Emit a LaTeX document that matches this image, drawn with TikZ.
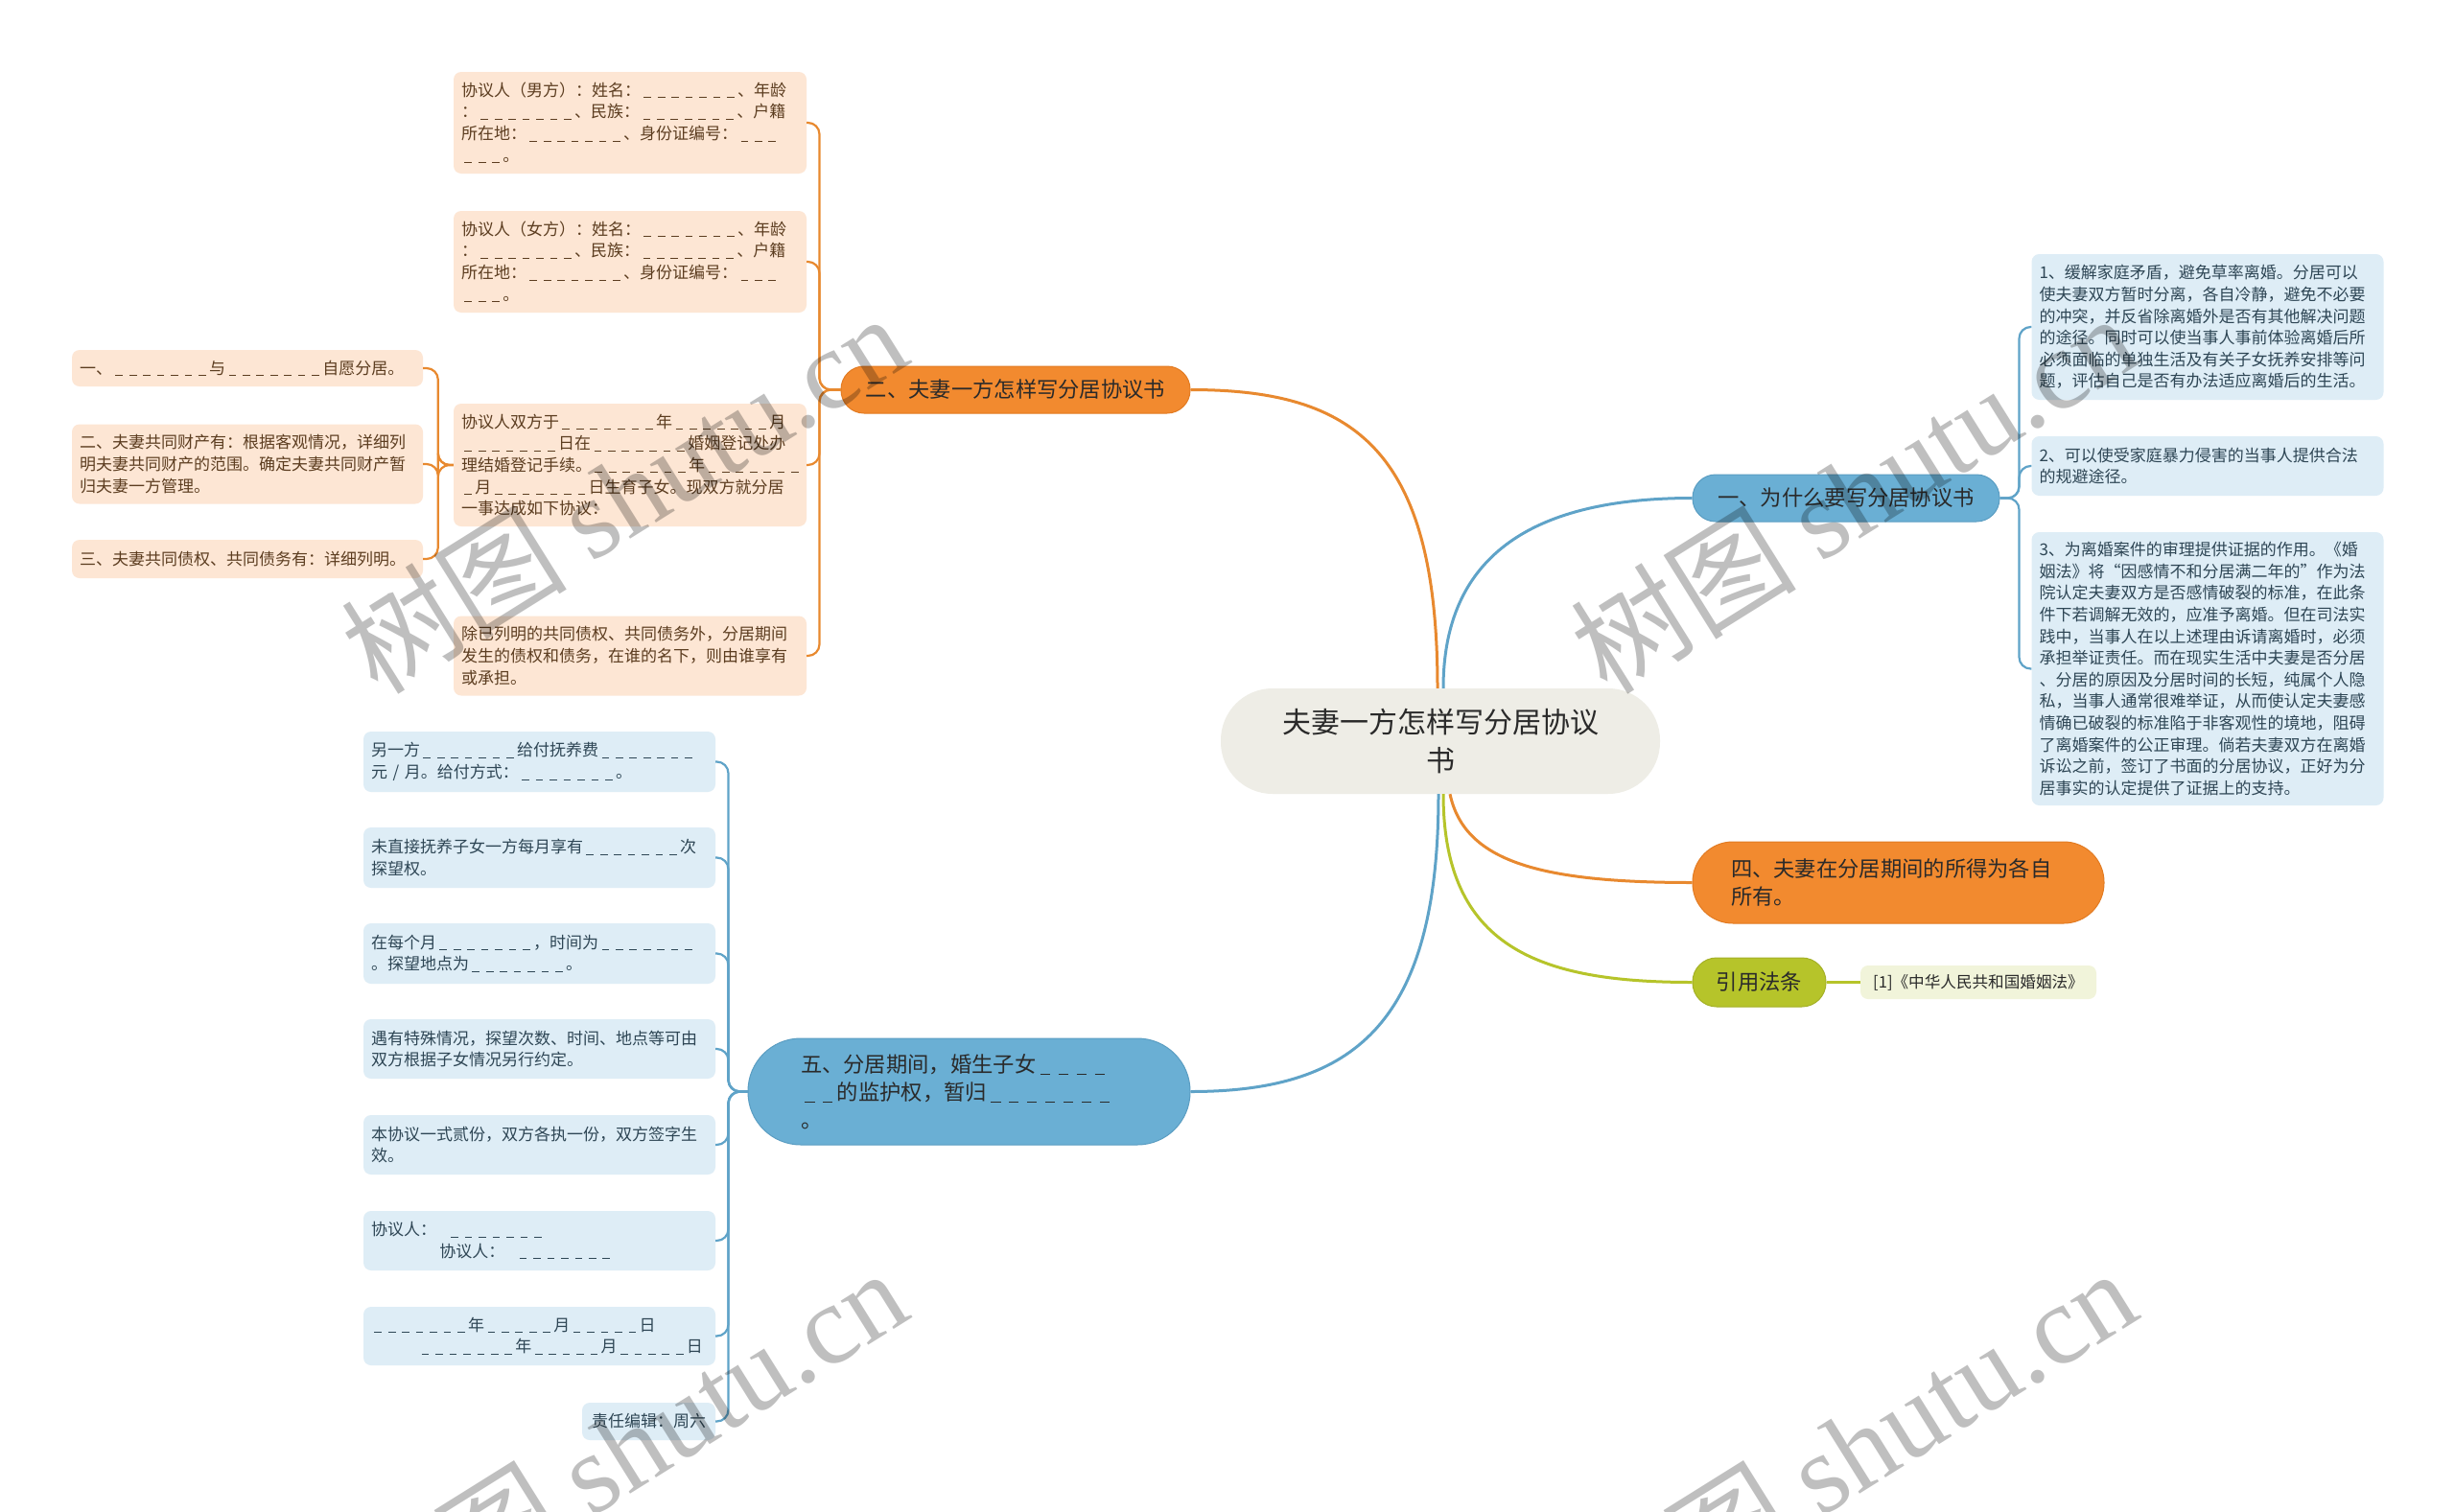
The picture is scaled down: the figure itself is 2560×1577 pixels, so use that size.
\documentclass[tikz,border=0pt]{standalone}
\usepackage{fontspec}
\setmainfont{Noto Sans CJK SC}
\newfontfamily\wmserif{Liberation Serif}
\usetikzlibrary{calc}
\definecolor{peach}{HTML}{FDE6D4}
\definecolor{obrown}{HTML}{5C3D20}
\definecolor{opillc}{HTML}{F28A2F}
\definecolor{opillb}{HTML}{E27B22}
\definecolor{olinec}{HTML}{E8892F}
\definecolor{bleafc}{HTML}{DEEDF6}
\definecolor{bslate}{HTML}{2E4655}
\definecolor{bpillc}{HTML}{6AAFD4}
\definecolor{bpillb}{HTML}{5A9DC2}
\definecolor{blinec}{HTML}{5FA3C8}
\definecolor{gpillc}{HTML}{B6C42A}
\definecolor{gleafc}{HTML}{F1F4DA}
\definecolor{centerc}{HTML}{EEEDE6}
\definecolor{darkt}{HTML}{2A2A2A}
\newcommand\dsh{\hspace{0.2em}\rule[-0.12em]{0.45em}{0.06em}\hspace{0.2em}}
\newcommand\US[1]{\ifnum#1>0 \dsh\expandafter\US\expandafter{\the\numexpr#1-1\relax}\fi}
\newcommand\leaffont{\fontsize{17}{22.6}\selectfont}
\newcommand\pillfont{\fontsize{22.3}{29}\selectfont}
\begin{document}
\begin{tikzpicture}[x=1pt,y=-1pt,
  oleaf/.style={fill=peach, text=obrown, rounded corners=8pt, inner xsep=8pt, inner ysep=0pt, align=left, text width=352pt, minimum width=368pt, font=\leaffont},
  bleaf/.style={fill=bleafc, text=bslate, rounded corners=8pt, inner xsep=8pt, inner ysep=0pt, align=left, text width=351pt, minimum width=367pt, font=\leaffont},
  opill/.style={fill=opillc, draw=opillb, line width=1pt, text=darkt, font=\pillfont, align=center, inner sep=0pt},
  bpill/.style={fill=bpillc, draw=bpillb, line width=1pt, text=darkt, font=\pillfont, align=center, inner sep=0pt},
  olink/.style={draw=olinec, line width=2.2pt, rounded corners=12pt},
  blink/.style={draw=blinec, line width=2.2pt, rounded corners=12pt},
  mainlink/.style={line width=3pt},
  wm/.style={text=black, text opacity=0.25, font=\fontsize{118}{130}\selectfont, rotate=32, inner sep=0pt}
]
\useasboundingbox (0,0) rectangle (2560,1577);
\fill[white] (0,0) rectangle (2560,1577);

% center
\node[fill=centerc, rounded corners=54pt, minimum width=458pt, minimum height=110pt, text=darkt, align=center, inner sep=0pt, font=\fontsize{30}{40}\selectfont] (c) at (1502,773) {夫妻一方怎样写分居协议\\书};

% branches
\node[opill, rounded corners=24pt, minimum width=364pt, minimum height=49pt] (b2) at (1059,406.5) {二、夫妻一方怎样写分居协议书};
\node[bpill, rounded corners=24pt, minimum width=320pt, minimum height=49pt] (b1) at (1925,519.5) {一、为什么要写分居协议书};
\node[opill, rounded corners=42pt, minimum width=429pt, minimum height=85pt, align=left, text width=349pt, inner xsep=40pt, inner ysep=0pt] (b4) at (1979.5,920.5) {四、夫妻在分居期间的所得为各自\\所有。};
\node[fill=gpillc, draw=gpillc!90!black, line width=1pt, rounded corners=25pt, minimum width=139pt, minimum height=51pt, text=darkt, font=\pillfont, inner sep=0pt] (bref) at (1834.5,1024.5) {引用法条};
\node[fill=gleafc, rounded corners=8pt, minimum width=246pt, minimum height=35pt, text=darkt, inner sep=0pt, font=\fontsize{16.6}{20}\selectfont] (ref1) at (2063,1024.5) {[1]《中华人民共和国婚姻法》};
\node[bpill, rounded corners=55pt, minimum width=461pt, minimum height=111pt, align=left, text width=351pt, inner xsep=55pt, inner ysep=0pt] (b5) at (1010.5,1138.5) {五、分居期间，婚生子女\US4\\\US2的监护权，暂归\US7\\。};

% orange leaves
\node[oleaf, minimum height=106pt] (L1) at (657,128) {协议人（男方）：姓名：\US7、年龄\\：\US7、民族：\US7、户籍\\所在地：\US7、身份证编号：\US3\\\US3。};
\node[oleaf, minimum height=106pt] (L2) at (657,273) {协议人（女方）：姓名：\US7、年龄\\：\US7、民族：\US7、户籍\\所在地：\US7、身份证编号：\US3\\\US3。};
\node[oleaf, minimum height=128pt] (L3) at (657,485) {协议人双方于\US7年\US7月\\\US7日在\US7婚姻登记处办\\理结婚登记手续。\US7年\US7\\\US1月\US7日生育子女。现双方就分居\\一事达成如下协议：};
\node[oleaf, minimum height=83pt] (L4) at (657,684) {除已列明的共同债权、共同债务外，分居期间\\发生的债权和债务，在谁的名下，则由谁享有\\或承担。};

\node[oleaf, minimum height=38pt, text width=350pt, minimum width=366pt] (C1) at (258,384) {一、\US7与\US7自愿分居。};
\node[oleaf, minimum height=83pt, text width=350pt, minimum width=366pt] (C2) at (258,484) {二、夫妻共同财产有：根据客观情况，详细列\\明夫妻共同财产的范围。确定夫妻共同财产暂\\归夫妻一方管理。};
\node[oleaf, minimum height=40pt, text width=350pt, minimum width=366pt] (C3) at (258,583) {三、夫妻共同债权、共同债务有：详细列明。};

% blue right leaves
\node[bleaf, minimum height=152pt] (R1) at (2302,341) {1、缓解家庭矛盾，避免草率离婚。分居可以\\使夫妻双方暂时分离，各自冷静，避免不必要\\的冲突，并反省除离婚外是否有其他解决问题\\的途径。同时可以使当事人事前体验离婚后所\\必须面临的单独生活及有关子女抚养安排等问\\题，评估自己是否有办法适应离婚后的生活。};
\node[bleaf, minimum height=62pt] (R2) at (2302,486) {2、可以使受家庭暴力侵害的当事人提供合法\\的规避途径。};
\node[bleaf, minimum height=285pt] (R3) at (2302,697.5) {3、为离婚案件的审理提供证据的作用。《婚\\姻法》将“因感情不和分居满二年的”作为法\\院认定夫妻双方是否感情破裂的标准，在此条\\件下若调解无效的，应准予离婚。但在司法实\\践中，当事人在以上述理由诉请离婚时，必须\\承担举证责任。而在现实生活中夫妻是否分居\\、分居的原因及分居时间的长短，纯属个人隐\\私，当事人通常很难举证，从而使认定夫妻感\\情确已破裂的标准陷于非客观性的境地，阻碍\\了离婚案件的公正审理。倘若夫妻双方在离婚\\诉讼之前，签订了书面的分居协议，正好为分\\居事实的认定提供了证据上的支持。};

% blue left leaves
\node[bleaf, minimum height=63pt] (B1) at (562.5,794.5) {另一方\US7给付抚养费\US7\\元 / 月。给付方式：\US7。};
\node[bleaf, minimum height=63pt] (B2) at (562.5,894.5) {未直接抚养子女一方每月享有\US7次\\探望权。};
\node[bleaf, minimum height=63pt] (B3) at (562.5,994.5) {在每个月\US7，时间为\US7\\。探望地点为\US7。};
\node[bleaf, minimum height=62pt] (B4) at (562.5,1094) {遇有特殊情况，探望次数、时间、地点等可由\\双方根据子女情况另行约定。};
\node[bleaf, minimum height=62pt] (B5) at (562.5,1194) {本协议一式贰份，双方各执一份，双方签字生\\效。};
\node[bleaf, minimum height=62pt] (B6) at (562.5,1294) {协议人：\hspace{0.7em}\US7\\\hspace*{4.2em}协议人：\hspace{0.7em}\US7};
\node[bleaf, minimum height=61pt] (B7) at (562.5,1393.5) {\US7年\US5月\US5日\\\hspace*{2.9em}\US7年\US5月\US5日};
\node[fill=bleafc, text=bslate, rounded corners=8pt, inner sep=0pt, minimum width=139pt, minimum height=39pt, font=\leaffont] (B8) at (676.5,1482.5) {责任编辑：周六};

% main connectors
\draw[mainlink, olinec] ([xshift=-3pt]c.north) .. controls +(0,-250) and +(170,0) .. (b2.east);
\draw[mainlink, blinec] ([xshift=3pt]c.north) .. controls +(0,-150) and +(-150,0) .. (b1.west);
\draw[mainlink, blinec] ([xshift=-2pt]c.south) .. controls +(0,240) and +(170,0) .. (b5.east);
\draw[mainlink, gpillc] ([xshift=3pt]c.south) .. controls +(0,160) and +(-160,0) .. (bref.west);
\draw[mainlink, olinec] ([xshift=10pt]c.south) .. controls +(15,70) and +(-160,0) .. (b4.west);
\draw[line width=2.2pt, gpillc] (bref.east) -- (ref1.west);

% orange leaf connectors
\foreach \t in {L1,L2,L3,L4} \draw[olink] (b2.west) -- ++(-22,0) |- (\t.east);
\foreach \t in {C1,C2,C3} \draw[olink] (L3.west) -- ++(-16,0) |- (\t.east);
% blue connectors
\foreach \t in {R1,R2,R3} \draw[blink] (b1.east) -- ++(20,0) |- (\t.west);
\foreach \t in {B1,B2,B3,B4,B5,B6,B7,B8} \draw[blink] (b5.west) -- ++(-20,0) |- (\t.east);

% watermarks
\node[wm] (w1) at (650,514) {树图 {\wmserif shutu.cn}};
\node[wm] (w2) at (1932,514) {树图 {\wmserif shutu.cn}};
\node[wm] (w3) at (650,1510) {树图 {\wmserif shutu.cn}};
\node[wm] (w4) at (1932,1510) {树图 {\wmserif shutu.cn}};
\end{tikzpicture}
\end{document}
